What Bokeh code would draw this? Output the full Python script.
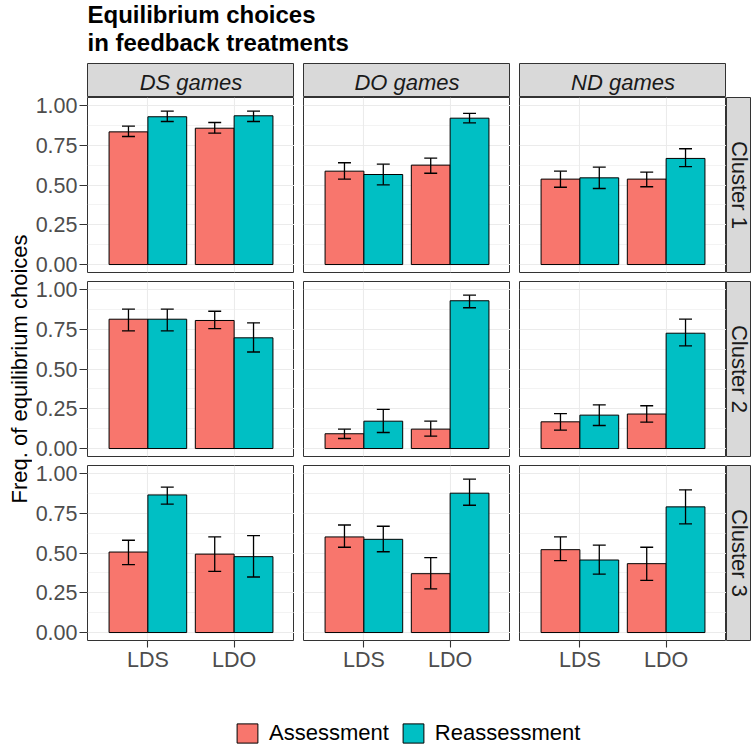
import math
from bokeh.plotting import figure
from bokeh.models import (FactorRange, Range1d, ColumnDataSource, FixedTicker, Grid,
                          CategoricalTicker, Spacer, Legend, LegendItem, NumeralTickFormatter)
from bokeh.layouts import row, column
from bokeh.transform import dodge
from bokeh.core.properties import value
from bokeh.embed import file_html
from bokeh.resources import INLINE

# ---------------- data ----------------
title_lines = ["Equilibrium choices", "in feedback treatments"]
y_title = "Freq. of equilibrium choices"
games = ["DS games", "DO games", "ND games"]
clusters = ["Cluster 1", "Cluster 2", "Cluster 3"]
treatments = ["LDS", "LDO"]
phases = ["Assessment", "Reassessment"]
y_ticks = [0.0, 0.25, 0.5, 0.75, 1.0]
y_minor = [0.125, 0.375, 0.625, 0.875]

# order in each list: DS(LDS, LDO), DO(LDS, LDO), ND(LDS, LDO)
c1_assess    = [0.834, 0.857, 0.587, 0.625, 0.537, 0.537]
c1_assess_lo = [0.805, 0.826, 0.537, 0.574, 0.486, 0.489]
c1_assess_hi = [0.870, 0.893, 0.640, 0.669, 0.587, 0.581]
c1_reass     = [0.929, 0.935, 0.566, 0.920, 0.545, 0.667]
c1_reass_lo  = [0.899, 0.899, 0.501, 0.891, 0.478, 0.616]
c1_reass_hi  = [0.964, 0.964, 0.631, 0.950, 0.612, 0.728]

c2_assess    = [0.813, 0.805, 0.093, 0.122, 0.168, 0.217]
c2_assess_lo = [0.740, 0.754, 0.063, 0.078, 0.116, 0.166]
c2_assess_hi = [0.876, 0.863, 0.122, 0.172, 0.219, 0.269]
c2_reass     = [0.813, 0.696, 0.172, 0.929, 0.210, 0.725]
c2_reass_lo  = [0.740, 0.607, 0.101, 0.885, 0.145, 0.645]
c2_reass_hi  = [0.876, 0.790, 0.246, 0.964, 0.275, 0.813]

c3_assess    = [0.506, 0.493, 0.601, 0.370, 0.521, 0.433]
c3_assess_lo = [0.427, 0.384, 0.536, 0.275, 0.452, 0.328]
c3_assess_hi = [0.580, 0.601, 0.676, 0.471, 0.601, 0.536]
c3_reass     = [0.865, 0.477, 0.586, 0.876, 0.456, 0.790]
c3_reass_lo  = [0.807, 0.349, 0.508, 0.800, 0.367, 0.683]
c3_reass_hi  = [0.914, 0.609, 0.668, 0.964, 0.550, 0.897]

cluster_data = [
    (c1_assess, c1_assess_lo, c1_assess_hi, c1_reass, c1_reass_lo, c1_reass_hi),
    (c2_assess, c2_assess_lo, c2_assess_hi, c2_reass, c2_reass_lo, c2_reass_hi),
    (c3_assess, c3_assess_lo, c3_assess_hi, c3_reass, c3_reass_lo, c3_reass_hi),
]

# ---------------- style ----------------
FONT = "Liberation Sans"
COLORS = ["#F8766D", "#00BFC4"]
GRID = "#EBEBEB"
BORDER = "#333333"
STRIP_FILL = "#D9D9D9"
PW, PH = 207, 175        # panel frame size
GAP = 9                  # horizontal gap between panels
TOP_PAD = [0, 4, 4]      # vertical gap (9 px) split into paddings of the rows
BOT_PAD = [5, 5, 40]     # last one holds the x axis
YLAB_W = 32
LB = 55                  # left axis band
STRIP_H = 34
RSTRIP_W = 25
TITLE_H = 63
LEG_H = 66
PANELS_W = 3 * PW + 2 * GAP + RSTRIP_W
TOTAL_W = YLAB_W + LB + PANELS_W
BAR_W = 0.45
CAP_W = 0.15
SHIFT = 0.35             # baseline correction of the text glyph (in em)
Y_RANGE = (-0.05, 1.05)


def base_fig(w, h, xr, yr, xloc=None, yloc=None):
    f = figure(width=w, height=h, x_range=xr, y_range=yr, output_backend="svg",
               toolbar_location=None, tools="", title=None,
               x_axis_location=xloc, y_axis_location=yloc)
    f.min_border = 0
    f.min_border_left = 0
    f.min_border_right = 0
    f.min_border_top = 0
    f.min_border_bottom = 0
    f.center = [o for o in f.center if not isinstance(o, Grid)]
    f.background_fill_color = "white"
    f.border_fill_color = "white"
    f.outline_line_color = None
    return f


def style_axis(ax, tick_out, standoff):
    ax.axis_line_color = None
    ax.major_tick_line_color = BORDER
    ax.major_tick_line_width = 1.1
    ax.minor_tick_line_color = None
    ax.major_tick_in = 0
    ax.major_tick_out = tick_out
    ax.major_label_standoff = standoff
    ax.major_label_text_font = FONT
    ax.major_label_text_font_size = "21.5px"
    ax.major_label_text_color = "#4D4D4D"


def panel(ci, gi):
    bottom = ci == 2
    tp, bp = TOP_PAD[ci], BOT_PAD[ci]
    p = base_fig(PW, PH + tp + bp,
                 FactorRange(factors=treatments, range_padding=0.2, range_padding_units="absolute"),
                 Range1d(*Y_RANGE),
                 xloc="below" if bottom else None)
    p.min_border_top = tp
    p.min_border_bottom = bp
    p.outline_line_color = BORDER
    p.outline_line_width = 1

    p.add_layout(Grid(dimension=1, ticker=FixedTicker(ticks=y_ticks, minor_ticks=y_minor),
                      grid_line_color=GRID, grid_line_width=1.1,
                      minor_grid_line_color=GRID, minor_grid_line_width=0.6), "center")
    p.add_layout(Grid(dimension=0, ticker=CategoricalTicker(),
                      grid_line_color=GRID, grid_line_width=1.1), "center")

    a, a_lo, a_hi, r, r_lo, r_hi = cluster_data[ci]
    sl = slice(2 * gi, 2 * gi + 2)
    src = ColumnDataSource(dict(treatment=treatments, a=a[sl], a_lo=a_lo[sl], a_hi=a_hi[sl],
                                r=r[sl], r_lo=r_lo[sl], r_hi=r_hi[sl]))
    for key, off, col in (("a", -BAR_W / 2, COLORS[0]), ("r", BAR_W / 2, COLORS[1])):
        p.vbar(x=dodge("treatment", off, range=p.x_range), top=key, bottom=0, width=BAR_W,
               source=src, fill_color=col, line_color="black", line_width=1)
        xc = dodge("treatment", off, range=p.x_range)
        p.segment(x0=xc, x1=xc, y0=key + "_lo", y1=key + "_hi", source=src,
                  line_color="black", line_width=1.3)
        xl = dodge("treatment", off - CAP_W / 2, range=p.x_range)
        xr = dodge("treatment", off + CAP_W / 2, range=p.x_range)
        for end in ("_lo", "_hi"):
            p.segment(x0=xl, x1=xr, y0=key + end, y1=key + end, source=src,
                      line_color="black", line_width=1.3)

    if bottom:
        style_axis(p.xaxis[0], 7, 0)
    return p


def axis_fig(ci):
    """Holds the y axis of a row; its 1-px frame sits just left of the panel border."""
    tp = STRIP_H if ci == 0 else TOP_PAD[ci]
    bp = BOT_PAD[ci]
    f = base_fig(LB, PH + tp + bp, Range1d(0, 1), Range1d(*Y_RANGE), yloc="left")
    f.min_border_left = LB - 1
    f.min_border_top = tp
    f.min_border_bottom = bp
    ax = f.yaxis[0]
    ax.ticker = FixedTicker(ticks=y_ticks)
    ax.formatter = NumeralTickFormatter(format="0.00")
    style_axis(ax, 8, 2)
    return f


def top_strip(label):
    f = base_fig(PW, STRIP_H, Range1d(0, PW), Range1d(STRIP_H, 0))
    f.background_fill_color = STRIP_FILL
    f.outline_line_color = BORDER
    f.outline_line_width = 1
    f.text(x=[PW / 2], y=[26.3 - SHIFT * 22], text=[label], text_align="center",
           text_baseline="alphabetic", text_font=value(FONT), text_font_style="italic",
           text_font_size="22px", text_color="#1A1A1A")
    return f


def right_strip(label, tp, bp):
    f = base_fig(RSTRIP_W, PH + tp + bp, Range1d(0, RSTRIP_W), Range1d(PH, 0))
    f.min_border_top = tp
    f.min_border_bottom = bp
    f.background_fill_color = STRIP_FILL
    f.outline_line_color = BORDER
    f.outline_line_width = 1
    f.text(x=[5.0 + SHIFT * 22], y=[PH / 2], text=[label], angle=-math.pi / 2, text_align="center",
           text_baseline="alphabetic", text_font=value(FONT), text_font_size="22px",
           text_color="#1A1A1A")
    return f


# ---------------- layout ----------------
strip_row = row(top_strip(games[0]), Spacer(width=GAP, height=STRIP_H),
                top_strip(games[1]), Spacer(width=GAP, height=STRIP_H), top_strip(games[2]),
                Spacer(width=RSTRIP_W, height=STRIP_H))

panel_children = [strip_row]
for ci, cl in enumerate(clusters):
    tp, bp = TOP_PAD[ci], BOT_PAD[ci]
    hh = PH + tp + bp
    panel_children.append(row(panel(ci, 0), Spacer(width=GAP, height=hh), panel(ci, 1),
                              Spacer(width=GAP, height=hh), panel(ci, 2), right_strip(cl, tp, bp)))
panels_col = column(*panel_children)
axis_col = column(*[axis_fig(ci) for ci in range(3)])

GRID_H = STRIP_H + 3 * PH + sum(TOP_PAD) + sum(BOT_PAD)
PANELS_H = 3 * PH + sum(TOP_PAD) + sum(BOT_PAD[:2])
ylab = base_fig(YLAB_W, GRID_H, Range1d(0, YLAB_W), Range1d(TITLE_H + GRID_H, TITLE_H))
ylab.text(x=[26.7 - SHIFT * 22], y=[TITLE_H + STRIP_H + PANELS_H / 2], text=[y_title],
          angle=math.pi / 2, text_align="center", text_baseline="alphabetic",
          text_font=value(FONT), text_font_size="22px", text_color="black")

title_fig = base_fig(TOTAL_W, TITLE_H, Range1d(0, TOTAL_W), Range1d(TITLE_H, 0))
title_fig.text(x=[87, 87], y=[22.8 - SHIFT * 24, 50.2 - SHIFT * 24], text=title_lines,
               text_align="left", text_baseline="alphabetic", text_font=value(FONT),
               text_font_style="bold", text_font_size="24px", text_color="black")

leg = base_fig(TOTAL_W, LEG_H, Range1d(0, 1), Range1d(0, 1))
# legend-key renderers: their single bar lies outside the visible range, only the key shows
rends = [leg.vbar(x=[5], top=[5], bottom=[4], width=0.5, fill_color=c, line_color="black",
                  line_width=1) for c in COLORS]
legend = Legend(items=[LegendItem(label=ph, renderers=[rr]) for ph, rr in zip(phases, rends)],
                location=(234, 0), orientation="horizontal", glyph_width=26, glyph_height=24,
                label_standoff=9, spacing=11, padding=0, margin=0, border_line_color=None,
                background_fill_alpha=0, label_text_font=FONT, label_text_font_size="22px",
                label_text_color="black", label_height=24)
leg.add_layout(legend, "center")

page = column(title_fig, row(ylab, axis_col, panels_col), leg)

open("out.html", "w").write(file_html(page, INLINE))
